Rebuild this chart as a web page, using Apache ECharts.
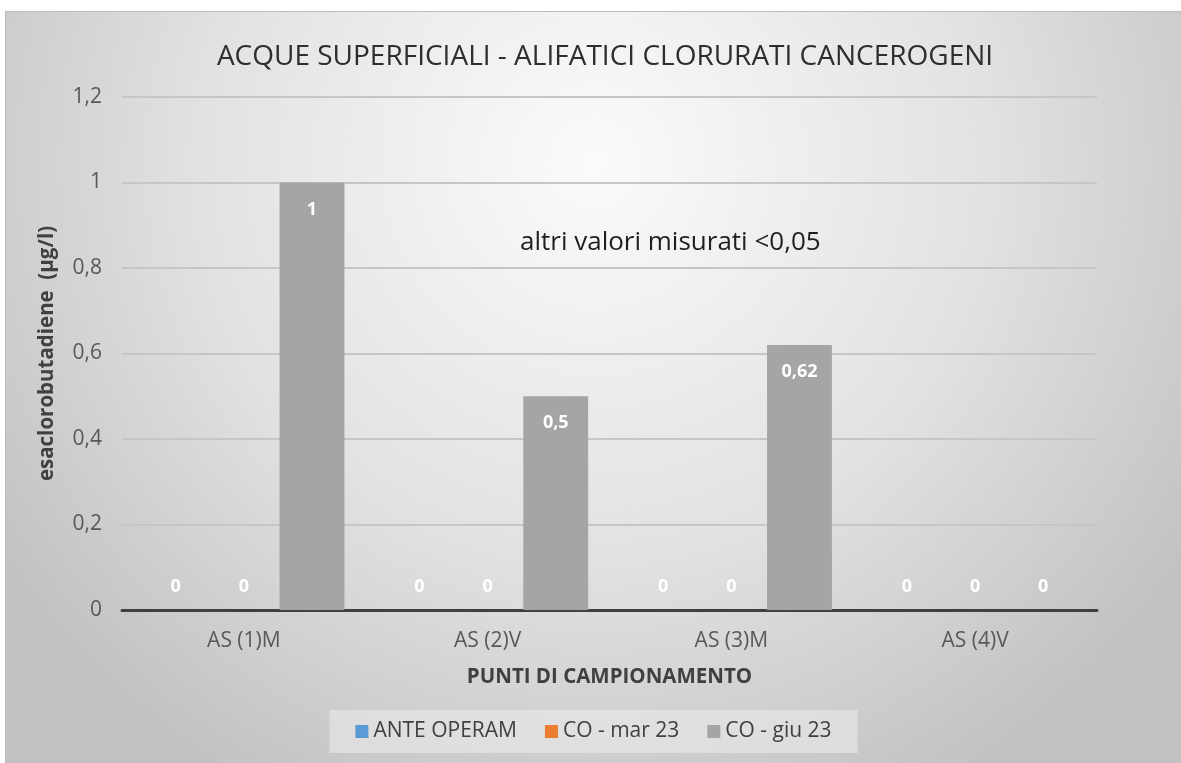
<!DOCTYPE html>
<html>
<head>
<meta charset="utf-8">
<script src="https://cdn.jsdelivr.net/npm/echarts@6/dist/echarts.min.js"></script>
<style>
  html, body { margin: 0; padding: 0; background: #ffffff; width: 1181px; height: 763px; overflow: hidden; }
  #frame { position: absolute; left: 5px; top: 11px; width: 1176px; height: 752px; border-left: 1px solid #bdbdbd; border-top: 1px solid #bdbdbd; box-sizing: border-box; }
  #chart { width: 100%; height: 100%; }
</style>
</head>
<body>
<div id="frame"><div id="chart"></div></div>
<script>
// Sampling points and measured concentrations (µg/l)
const categories = ['AS (1)M', 'AS (2)V', 'AS (3)M', 'AS (4)V'];
const seriesNames = ['ANTE OPERAM', 'CO - mar 23', 'CO - giu 23'];
const anteOperam = [0, 0, 0, 0];
const coMar23 = [0, 0, 0, 0];
const coGiu23 = [1, 0.5, 0.62, 0];
const yTicks = [0, 0.2, 0.4, 0.6, 0.8, 1, 1.2];

const colors = ['#5B9BD5', '#ED7D31', '#A5A5A5'];
const TXT = "'Open Sans', sans-serif";

const comma = v => String(v).replace('.', ',');

// Zero values get their label just above the axis, others inside the bar top
function barData(values) {
  return values.map(v => ({
    value: v,
    label: v === 0
      ? { position: 'top', distance: 14 }
      : { position: 'insideTop', distance: 18 }
  }));
}

function makeSeries(name, values, color) {
  return {
    name: name,
    type: 'bar',
    data: barData(values),
    itemStyle: { color: color },
    barGap: '5%',
    barCategoryGap: '17.5%',
    label: {
      show: true,
      color: '#ffffff',
      fontFamily: TXT,
      fontWeight: 'bold',
      fontSize: 18,
      formatter: p => comma(p.value)
    }
  };
}

const chart = echarts.init(document.getElementById('chart'), null, { renderer: 'canvas' });

chart.setOption({
  animation: false,
  backgroundColor: {
    type: 'radial', x: 0.5, y: 0.2, r: 0.95,
    colorStops: [
      { offset: 0, color: '#fbfbfb' },
      { offset: 0.55, color: '#e2e2e2' },
      { offset: 1, color: '#c2c2c2' }
    ]
  },
  color: colors,
  title: {
    text: 'ACQUE SUPERFICIALI - ALIFATICI CLORURATI CANCEROGENI',
    left: 594, top: 26, textAlign: 'center',
    textStyle: { fontFamily: TXT, fontSize: 28, fontWeight: 'normal', color: '#2e2e2e' }
  },
  legend: {
    data: seriesNames,
    left: 'center', top: 698,
    backgroundColor: 'rgba(236,236,236,0.55)',
    padding: [11, 26, 11, 26],
    itemWidth: 13, itemHeight: 13, itemGap: 28,
    icon: 'rect',
    textStyle: { fontFamily: TXT, fontSize: 21, color: '#404040' }
  },
  grid: { left: 116, right: 84, top: 85, bottom: 153 },
  xAxis: {
    type: 'category',
    data: categories,
    name: 'PUNTI DI CAMPIONAMENTO',
    nameLocation: 'middle',
    nameGap: 57,
    nameTextStyle: { fontFamily: TXT, fontSize: 20.5, fontWeight: 'bold', color: '#404040' },
    axisLine: { lineStyle: { color: '#404040', width: 3 } },
    axisTick: { show: false },
    axisLabel: { margin: 21, fontFamily: TXT, fontSize: 21, color: '#595959' }
  },
  yAxis: {
    type: 'value',
    min: yTicks[0], max: yTicks[yTicks.length - 1], interval: 0.2,
    name: 'esaclorobutadiene  (µg/l)',
    nameLocation: 'middle',
    nameGap: 64,
    nameTextStyle: { fontFamily: TXT, fontSize: 20.5, fontWeight: 'bold', color: '#404040' },
    axisLine: { show: false },
    axisTick: { show: false },
    axisLabel: { margin: 20, fontFamily: TXT, fontSize: 21, color: '#595959', formatter: v => comma(+v.toFixed(1)) },
    splitLine: { lineStyle: { color: '#c6c6c6', width: 2 } }
  },
  graphic: [{
    type: 'text',
    left: 514, top: 218,
    style: { text: 'altri valori misurati <0,05', font: "26px 'Open Sans', sans-serif", fill: '#1f1f1f' }
  }],
  series: [
    makeSeries(seriesNames[0], anteOperam, colors[0]),
    makeSeries(seriesNames[1], coMar23, colors[1]),
    makeSeries(seriesNames[2], coGiu23, colors[2])
  ]
});
</script>
</body>
</html>
